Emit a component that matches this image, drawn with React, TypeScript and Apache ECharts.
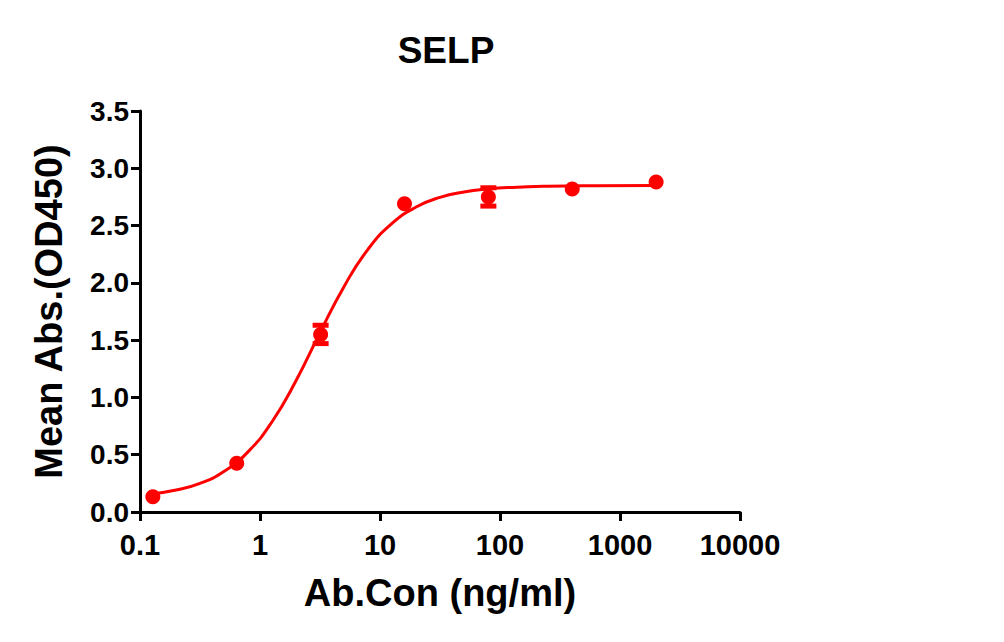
import React, { useEffect, useRef } from "react";
import * as echarts from "echarts";

// Antibody concentration (ng/ml), 5-fold serial dilution
const concentrations = [0.128, 0.64, 3.2, 16, 80, 400, 2000];
// Mean absorbance at 450 nm
const meanAbs = [0.134, 0.425, 1.55, 2.69, 2.75, 2.82, 2.88];
// Standard deviation of replicates
const sdAbs = [0, 0, 0.08, 0, 0.08, 0, 0];

// Fitted dose-response curve, sampled along the concentration range
const curveX = [0.128, 0.2, 0.316, 0.5, 0.794, 1.26, 2, 3.16, 5.01, 7.94, 12.6, 20, 31.6, 50.1, 79.4, 126, 251, 631, 2000];
const curveY = [0.16, 0.192, 0.25, 0.353, 0.525, 0.788, 1.148, 1.565, 1.967, 2.293, 2.519, 2.662, 2.746, 2.793, 2.819, 2.833, 2.843, 2.848, 2.85];

const xTickLabels: Record<string, string> = {
  "0.1": "0.1",
  "1": "1",
  "10": "10",
  "100": "100",
  "1000": "1000",
  "10000": "10000",
};

const RED = "#ff0000";
const FONT = "'Liberation Sans', Arial, sans-serif";

export default function App() {
  const ref = useRef<HTMLDivElement>(null);

  useEffect(() => {
    if (!ref.current) return;
    const chart = echarts.init(ref.current, null, { renderer: "svg" });

    const errData = concentrations.map((c, i) => [c, meanAbs[i] - sdAbs[i], meanAbs[i] + sdAbs[i]]);

    chart.setOption({
      animation: false,
      backgroundColor: "#ffffff",
      title: {
        text: "SELP",
        left: 441,
        top: 27,
        textAlign: "center",
        textStyle: { fontFamily: FONT, fontWeight: "bold", fontSize: 37, color: "#000" },
      },
      grid: { left: 140, right: 264, top: 111, bottom: 130, containLabel: false },
      xAxis: {
        type: "log",
        logBase: 10,
        min: 0.1,
        max: 10000,
        name: "Ab.Con (ng/ml)",
        nameLocation: "middle",
        nameGap: 62,
        nameTextStyle: { fontFamily: FONT, fontWeight: "bold", fontSize: 38, color: "#000" },
        axisLine: { onZero: false, lineStyle: { color: "#000", width: 3 } },
        axisTick: { show: true, length: 9, lineStyle: { color: "#000", width: 3 } },
        minorTick: { show: false },
        splitLine: { show: false },
        axisLabel: {
          margin: 18,
          fontFamily: FONT,
          fontWeight: "bold",
          fontSize: 29,
          color: "#000",
          formatter: (v: number) => xTickLabels[String(v)] ?? String(v),
        },
      },
      yAxis: {
        type: "value",
        min: 0,
        max: 3.5,
        interval: 0.5,
        name: "Mean Abs.(OD450)",
        nameLocation: "middle",
        nameGap: 72,
        nameRotate: 90,
        nameTextStyle: { fontFamily: FONT, fontWeight: "bold", fontSize: 38, color: "#000" },
        axisLine: { show: true, lineStyle: { color: "#000", width: 3 } },
        axisTick: { show: true, length: 9, lineStyle: { color: "#000", width: 3 } },
        splitLine: { show: false },
        axisLabel: {
          margin: 11,
          fontFamily: FONT,
          fontWeight: "bold",
          fontSize: 28,
          color: "#000",
          formatter: (v: number) => v.toFixed(1),
        },
      },
      series: [
        {
          type: "line",
          data: curveX.map((x, i) => [x, curveY[i]]),
          smooth: true,
          showSymbol: false,
          symbol: "none",
          lineStyle: { color: RED, width: 3 },
          z: 2,
        },
        {
          type: "custom",
          data: errData,
          z: 3,
          renderItem: (params: any, api: any) => {
            const x = api.value(0);
            const lo = api.coord([x, api.value(1)]);
            const hi = api.coord([x, api.value(2)]);
            if (Math.abs(hi[1] - lo[1]) < 1) return { type: "group", children: [] };
            const capW = 16;
            const capH = 5;
            const style = { fill: RED, stroke: null };
            return {
              type: "group",
              children: [
                {
                  type: "line",
                  shape: { x1: lo[0], y1: lo[1], x2: hi[0], y2: hi[1] },
                  style: { stroke: RED, lineWidth: 3 },
                },
                { type: "rect", shape: { x: hi[0] - capW / 2, y: hi[1] - capH / 2, width: capW, height: capH }, style },
                { type: "rect", shape: { x: lo[0] - capW / 2, y: lo[1] - capH / 2, width: capW, height: capH }, style },
              ],
            };
          },
        },
        {
          type: "scatter",
          data: concentrations.map((c, i) => [c, meanAbs[i]]),
          symbol: "circle",
          symbolSize: 15,
          itemStyle: { color: RED, opacity: 1 },
          z: 4,
        },
      ],
    });

    return () => chart.dispose();
  }, []);

  return <div ref={ref} style={{ width: 1004, height: 642, margin: -8 }} />;
}
